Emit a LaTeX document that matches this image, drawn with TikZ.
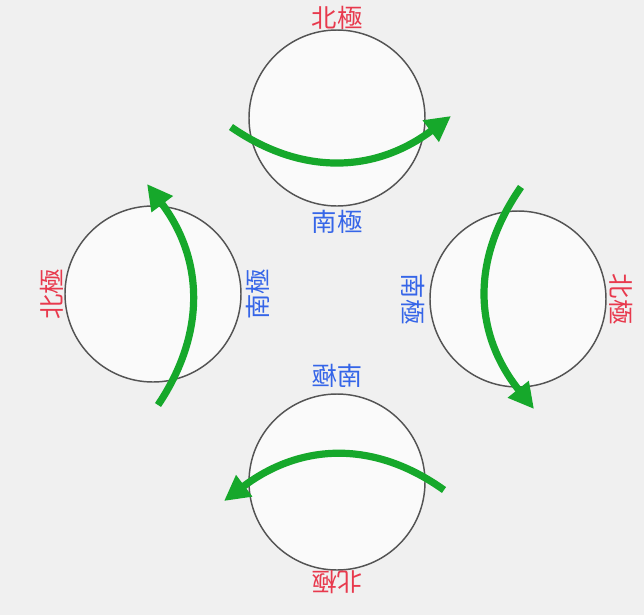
\documentclass[tikz,border=0pt]{standalone}
\usepackage{fontspec}
\newfontfamily\cjk{Noto Sans CJK JP}
\usetikzlibrary{arrows.meta}
\definecolor{fond}{HTML}{F0F0F0}
\definecolor{rougepole}{HTML}{E8394D}
\definecolor{bleupole}{HTML}{3565E8}
\definecolor{vertfleche}{HTML}{16A82B}
\tikzset{
  globe/.style={circle, draw=black!67, line width=1.1pt, fill=white!98!black, minimum size=132pt, inner sep=0pt},
  nord/.style={text=rougepole, font=\cjk\fontsize{19}{19}\selectfont, inner sep=0pt},
  sud/.style={text=bleupole, font=\cjk\fontsize{19}{19}\selectfont, inner sep=0pt},
  rotation/.style={draw=vertfleche, line width=5.4pt, -{Triangle[length=19pt, width=19pt]}}
}
\begin{document}
\begin{tikzpicture}[x=0.75pt, y=-0.75pt]
        % Fond
        \fill[fond] (0,0) rectangle (644,615);
        % Globes
        \node[globe] (haut) at (337,118) {};
        \node[globe] (gauche) at (153,294) {};
        \node[globe] (droite) at (518,299) {};
        \node[globe] (bas) at (337,482) {};
        % Poles
        \node[nord] (nH) at (337,18) {北極};
        \node[sud] (sH) at (337,222) {南極};
        \node[nord, rotate=90] (nG) at (52,294) {北極};
        \node[sud, rotate=90] (sG) at (258,294) {南極};
        \node[sud, rotate=-90] (sD) at (413,299) {南極};
        \node[nord, rotate=-90] (nD) at (621,299) {北極};
        \node[sud, xscale=-1] (sB) at (337,376) {南極};
        \node[nord, rotate=180] (nB) at (337,582) {北極};
        % Fleches de rotation
        \coordinate (a1) at (231,127);
        \coordinate (b1) at (451,116);
        \draw[rotation] (a1) .. controls (302,176) and (375,173) .. (b1);
        \coordinate (a2) at (158,405);
        \coordinate (b2) at (147,184);
        \draw[rotation] (a2) .. controls (207,332) and (203,258) .. (b2);
        \coordinate (a3) at (521,187);
        \coordinate (b3) at (534,409);
        \draw[rotation] (a3) .. controls (470,260) and (474,334) .. (b3);
        \coordinate (a4) at (444,490);
        \coordinate (b4) at (224,501);
        \draw[rotation] (a4) .. controls (374,440) and (301,443) .. (b4);
\end{tikzpicture}
\end{document}
